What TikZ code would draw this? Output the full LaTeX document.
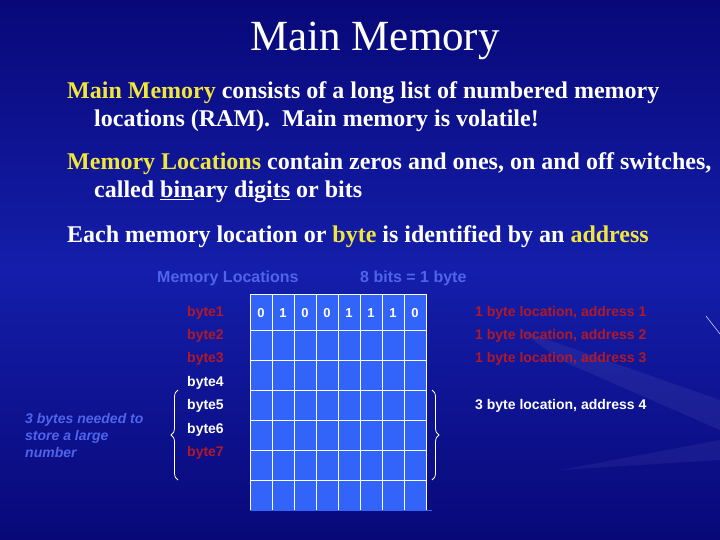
\documentclass[tikz,border=0pt]{standalone}
\usepackage{fontspec}
\setmainfont{Liberation Serif}
\newfontfamily\arial{Liberation Sans}
\usetikzlibrary{decorations.pathreplacing}
\definecolor{bgA}{RGB}{8,8,120}
\definecolor{bgB}{RGB}{20,30,170}
\definecolor{ylw}{RGB}{240,230,60}
\definecolor{lbl}{RGB}{80,100,235}
\definecolor{rd}{RGB}{175,25,40}
\definecolor{cell}{RGB}{50,100,250}
\begin{document}
\begin{tikzpicture}[x=1pt,y=-1pt,
  body/.style={anchor=base west,text=white,font=\bfseries\fontsize{24}{26}\selectfont,inner sep=0},
  lab/.style={anchor=west,font=\arial\bfseries\fontsize{14}{16}\selectfont,inner sep=0},
  bit/.style={text=white,font=\arial\bfseries\fontsize{13}{15}\selectfont,inner sep=0},
  brace/.style={draw=white,line width=0.8pt,decorate,decoration={brace,amplitude=7pt}}]
\useasboundingbox (0,0) rectangle (720,540);
\shade[top color=bgA,bottom color=bgA,middle color=bgB] (0,0) rectangle (720,540);
\fill[white,opacity=0.06] (520,330) -- (720,400) -- (720,430) -- (560,360) -- cycle;
\fill[white,opacity=0.05] (560,470) -- (720,440) -- (720,460) -- cycle;
\draw[white!80!blue,line width=0.6pt] (706,316) -- (720,334);
\node[text=white,font=\fontsize{43}{46}\selectfont] (title) at (375,41) {Main Memory};
\node[body] (l1) at (67,99) {\textcolor{ylw}{Main Memory} consists of a long list of numbered memory};
\node[body] (l2) at (94,127) {locations (RAM).\ \ Main memory is volatile!};
\node[body] (l3) at (67,170) {\textcolor{ylw}{Memory Locations} contain zeros and ones, on and off switches,};
\node[body] (l4) at (94,198) {called \underline{bin}ary digi\underline{ts} or bits};
\node[body] (l5) at (67,243) {Each memory location or \textcolor{ylw}{byte} is identified by an \textcolor{ylw}{address}};
\node[lab,text=lbl,font=\arial\bfseries\fontsize{16}{18}\selectfont] (ml) at (157,278) {Memory Locations};
\node[lab,text=lbl,font=\arial\bfseries\fontsize{16}{18}\selectfont] (eb) at (360,278) {8 bits = 1 byte};
% grid
\fill[cell] (250,294) rectangle (426,510);
\foreach \i in {0,...,8} \draw[white,line width=1pt] ({250+22*\i},294) -- ({250+22*\i},510);
\foreach \y in {294,330,360,390,420,450,480} \draw[white,line width=1pt] (250,\y) -- (426,\y);
\draw[cell,line width=1pt] (250,510) -- (432,510);
\foreach \b [count=\i] in {0,1,0,0,1,1,1,0} \node[bit] (b\i) at ({250+22*\i-11},313) {\b};
\node[lab,text=rd] (y1) at (187,313) {byte1};
\node[lab,text=rd] (y2) at (187,336) {byte2};
\node[lab,text=rd] (y3) at (187,359) {byte3};
\node[lab,text=white] (y4) at (187,383) {byte4};
\node[lab,text=white] (y5) at (187,406) {byte5};
\node[lab,text=white] (y6) at (187,430) {byte6};
\node[lab,text=rd] (y7) at (187,453) {byte7};
\node[lab,text=rd] (a1) at (475,313) {1 byte location, address 1};
\node[lab,text=rd] (a2) at (475,336) {1 byte location, address 2};
\node[lab,text=rd] (a3) at (475,359) {1 byte location, address 3};
\node[lab,text=white] (a4) at (475,406) {3 byte location, address 4};
\node[anchor=north west,align=left,text=lbl,font=\arial\bfseries\itshape\fontsize{14}{17}\selectfont,inner sep=0] (n) at (25,413) {3 bytes needed to\\store a large\\number};
\coordinate (lbt) at (178,390); \coordinate (lbb) at (178,480);
\coordinate (rbt) at (432,390); \coordinate (rbb) at (432,480);
\draw[brace] (lbb) -- (lbt);
\draw[brace] (rbt) -- (rbb);
\end{tikzpicture}
\end{document}
